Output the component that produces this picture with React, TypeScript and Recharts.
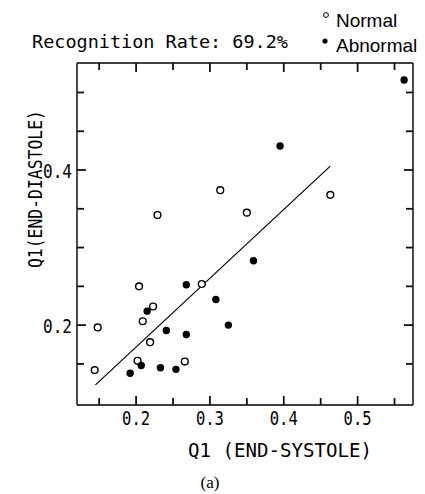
import { ReferenceLine, Scatter, ScatterChart, XAxis, YAxis } from 'recharts'

const normalX = [0.148, 0.144, 0.229, 0.314, 0.35, 0.204, 0.223, 0.209, 0.289, 0.219, 0.202, 0.266, 0.463]
const normalY = [0.197, 0.142, 0.342, 0.374, 0.345, 0.25, 0.224, 0.205, 0.253, 0.178, 0.154, 0.153, 0.368]
const abnormalX = [0.215, 0.268, 0.308, 0.241, 0.268, 0.325, 0.359, 0.192, 0.207, 0.233, 0.254, 0.395, 0.563]
const abnormalY = [0.218, 0.252, 0.233, 0.193, 0.188, 0.2, 0.283, 0.138, 0.148, 0.145, 0.143, 0.431, 0.516]

const fitX = [0.145, 0.463]
const fitY = [0.123, 0.405]

const xDomain = [0.12, 0.575]
const yDomain = [0.097, 0.538]
const xTicks = [0.15, 0.2, 0.25, 0.3, 0.35, 0.4, 0.45, 0.5, 0.55]
const xLabels = [0.2, 0.3, 0.4, 0.5]
const yTicks = [0.15, 0.2, 0.25, 0.3, 0.35, 0.4, 0.45, 0.5]
const yLabels = [0.2, 0.4]

const normal = normalX.map((x, i) => ({ x, y: normalY[i] }))
const abnormal = abnormalX.map((x, i) => ({ x, y: abnormalY[i] }))
const fitSegment = fitX.map((x, i) => ({ x, y: fitY[i] }))

const isLabel = (list: number[], v: number) => list.some((l) => Math.abs(l - v) < 1e-6)

// frame tick marks, placed on the frame edges and drawn inward
const tickMarks = [
  ...xTicks.map((t) => ({ x: t, y: yDomain[0], side: 'bottom', major: isLabel(xLabels, t) })),
  ...xTicks.map((t) => ({ x: t, y: yDomain[1], side: 'top', major: isLabel(xLabels, t) })),
  ...yTicks.map((t) => ({ x: xDomain[0], y: t, side: 'left', major: isLabel(yLabels, t) })),
  ...yTicks.map((t) => ({ x: xDomain[1], y: t, side: 'right', major: isLabel(yLabels, t) })),
]

const mono = '"DejaVu Sans Mono", monospace'
const axisLineStyle = { stroke: '#000', strokeWidth: 1.4 }

const TickMark = (props: any) => {
  const { cx, cy } = props
  const p = props.payload ?? props
  const len = p.major ? 9 : 7
  const d =
    p.side === 'bottom' ? `M${cx},${cy}V${cy - len}`
    : p.side === 'top' ? `M${cx},${cy}V${cy + len}`
    : p.side === 'left' ? `M${cx},${cy}H${cx + len}`
    : `M${cx},${cy}H${cx - len}`
  return <path d={d} stroke="#111" strokeWidth={1.8} fill="none" />
}

const BottomTick = (props: any) => {
  const { x, y, payload } = props
  if (!isLabel(xLabels, payload.value)) return <g />
  return (
    <text x={x} y={y + 20} textAnchor="middle" fontFamily={mono} fontSize={20}
      textLength={28} lengthAdjust="spacingAndGlyphs" fill="#000">
      {payload.value.toFixed(1)}
    </text>
  )
}

const LeftTick = (props: any) => {
  const { x, y, payload } = props
  if (!isLabel(yLabels, payload.value)) return <g />
  return (
    <text x={x - 5} y={y + 8} textAnchor="end" fontFamily={mono} fontSize={20}
      textLength={29} lengthAdjust="spacingAndGlyphs" fill="#000">
      {payload.value.toFixed(1)}
    </text>
  )
}

const OpenDot = (props: any) => (
  <circle cx={props.cx} cy={props.cy} r={3.4} fill="#fff" stroke="#000" strokeWidth={1.4} />
)
const FilledDot = (props: any) => <circle cx={props.cx} cy={props.cy} r={3.7} fill="#000" />

export default function App() {
  return (
    <div style={{ position: 'absolute', left: 0, top: 0, width: 425, height: 494, background: '#fff' }}>
      <ScatterChart width={425} height={494} margin={{ top: 0, right: 0, bottom: 0, left: 0 }}>
        <XAxis xAxisId="b" dataKey="x" type="number" orientation="bottom" height={89}
          domain={xDomain} ticks={xTicks} allowDataOverflow tickSize={0} tickMargin={0}
          tickLine={false} axisLine={axisLineStyle} tick={<BottomTick />} interval={0} />
        <XAxis xAxisId="t" dataKey="x" type="number" orientation="top" height={63}
          domain={xDomain} ticks={xTicks} allowDataOverflow tickSize={0} tickMargin={0}
          tickLine={false} axisLine={axisLineStyle} tick={<g />} interval={0} />
        <YAxis yAxisId="l" dataKey="y" type="number" orientation="left" width={77}
          domain={yDomain} ticks={yTicks} allowDataOverflow tickSize={0} tickMargin={0}
          tickLine={false} axisLine={axisLineStyle} tick={<LeftTick />} interval={0} />
        <YAxis yAxisId="r" dataKey="y" type="number" orientation="right" width={12}
          domain={yDomain} ticks={yTicks} allowDataOverflow tickSize={0} tickMargin={0}
          tickLine={false} axisLine={axisLineStyle} tick={<g />} interval={0} />
        <ReferenceLine xAxisId="b" yAxisId="l" segment={fitSegment} stroke="#000"
          strokeWidth={1.2} ifOverflow="visible" />
        <Scatter xAxisId="t" yAxisId="r" data={[]} isAnimationActive={false} />
        <Scatter xAxisId="b" yAxisId="l" data={tickMarks} shape={TickMark} isAnimationActive={false} />
        <Scatter xAxisId="b" yAxisId="l" data={normal} shape={OpenDot} isAnimationActive={false} />
        <Scatter xAxisId="b" yAxisId="l" data={abnormal} shape={FilledDot} isAnimationActive={false} />
      </ScatterChart>
      <svg width={425} height={494} style={{ position: 'absolute', left: 0, top: 0, pointerEvents: 'none' }}>
        <text x={32} y={48} fontFamily={mono} fontSize={18} textLength={256}
          lengthAdjust="spacingAndGlyphs" fill="#000">
          Recognition Rate: 69.2%
        </text>
        <circle cx={326} cy={15} r={2.4} fill="#fff" stroke="#000" strokeWidth={1} />
        <text x={336} y={27} fontFamily='"Liberation Sans", Arial, sans-serif' fontSize={19} fill="#000">
          Normal
        </text>
        <circle cx={325} cy={41} r={2.6} fill="#000" />
        <text x={336} y={52} fontFamily='"Liberation Sans", Arial, sans-serif' fontSize={19} fill="#000">
          Abnormal
        </text>
        <text x={280} y={457} textAnchor="middle" fontFamily={mono} fontSize={19} textLength={184}
          lengthAdjust="spacingAndGlyphs" fill="#000">
          Q1 (END-SYSTOLE)
        </text>
        <text x={42} y={189} textAnchor="middle" fontFamily={mono} fontSize={19} textLength={158}
          lengthAdjust="spacingAndGlyphs" transform="rotate(-90, 42, 189)" fill="#000">
          Q1(END-DIASTOLE)
        </text>
        <text x={210} y={488} textAnchor="middle" fontFamily='"Liberation Serif", "Times New Roman", serif'
          fontSize={17} fill="#000">
          (a)
        </text>
      </svg>
    </div>
  )
}
